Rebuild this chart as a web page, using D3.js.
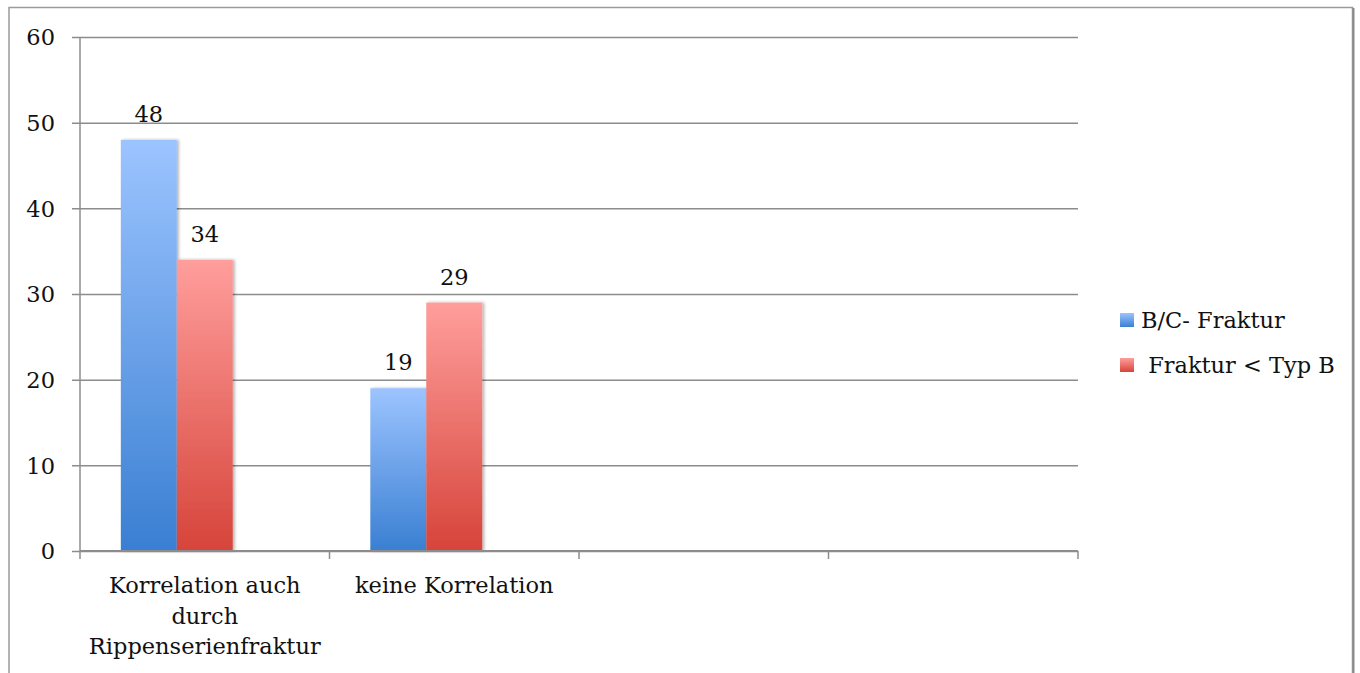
<!DOCTYPE html>
<html>
<head>
<meta charset="utf-8">
<script src="https://cdn.jsdelivr.net/npm/d3@7"></script>
<style>
  html, body { margin: 0; padding: 0; background: #fff; }
  svg { display: block; }
  text { font-family: "DejaVu Serif", serif; fill: #111; }
</style>
</head>
<body>
<svg id="chart" width="1360" height="673"></svg>
<script>
// Category slots along the x axis (two are left empty)
const categories = [
  ["Korrelation auch", "durch", "Rippenserienfraktur"],
  ["keine Korrelation"],
  [],
  []
];
const seriesNames = ["B/C- Fraktur", " Fraktur < Typ B"];
const bcFraktur = [48, 19, null, null];
const frakturTypB = [34, 29, null, null];
const yTicks = [0, 10, 20, 30, 40, 50, 60];

const series = [
  { name: seriesNames[0], values: bcFraktur, grad: "gBlue", slot: 0 },
  { name: seriesNames[1], values: frakturTypB, grad: "gRed", slot: 1 }
];

const FONT = 22.5;
const svg = d3.select("#chart");
const W = 1360, H = 673;
const plot = { left: 80, right: 1078, top: 37, bottom: 551 };

const defs = svg.append("defs");
function gradient(id, top, bottom) {
  const g = defs.append("linearGradient").attr("id", id)
    .attr("x1", 0).attr("y1", 0).attr("x2", 0).attr("y2", 1);
  g.append("stop").attr("offset", "0%").attr("stop-color", top);
  g.append("stop").attr("offset", "100%").attr("stop-color", bottom);
}
gradient("gBlue", "#9cc4ff", "#3a7fd2");
gradient("gRed", "#ff9e9c", "#d6443a");
// soft shadow that sits to the right of each bar
const f = defs.append("filter").attr("id", "barShadow")
  .attr("x", "-10%").attr("y", "-5%").attr("width", "130%").attr("height", "110%");
f.append("feGaussianBlur").attr("in", "SourceAlpha").attr("stdDeviation", 1.6).attr("result", "b");
f.append("feOffset").attr("in", "b").attr("dx", 2).attr("dy", 0).attr("result", "o");
f.append("feComponentTransfer").attr("in", "o").attr("result", "s")
  .append("feFuncA").attr("type", "linear").attr("slope", 0.3);
const fm = f.append("feMerge");
fm.append("feMergeNode").attr("in", "s");
fm.append("feMergeNode").attr("in", "SourceGraphic");

// outer frame
svg.append("rect")
  .attr("x", 9).attr("y", 7.5).attr("width", 1343.5).attr("height", 720)
  .attr("fill", "none").attr("stroke", "#9a9a9a").attr("stroke-width", 1.5);
svg.append("line")
  .attr("x1", 1353.5).attr("x2", 1353.5).attr("y1", 8).attr("y2", H)
  .attr("stroke", "#8a8a8a").attr("stroke-width", 2);

const y = d3.scaleLinear().domain([0, 60]).range([plot.bottom, plot.top]);
const x = d3.scaleBand().domain(d3.range(categories.length))
  .range([plot.left, plot.right]).padding(0);
// three sub-slots per category, the last one stays empty
const x1 = d3.scaleBand().domain([0, 1, 2])
  .range([0, x.bandwidth()]).paddingInner(0).paddingOuter(0.73);

const gridColor = "#8c8c8c";

// horizontal gridlines + y ticks
const yAxis = d3.axisLeft(y).tickValues(yTicks)
  .tickSize(-(plot.right - plot.left)).tickSizeOuter(0).tickPadding(25);
const gy = svg.append("g").attr("transform", `translate(${plot.left},0)`).call(yAxis);
gy.select(".domain").remove();
gy.selectAll(".tick line").attr("stroke", gridColor).attr("stroke-width", 1.5)
  .attr("x1", -8);
gy.selectAll(".tick text").attr("font-size", FONT).attr("fill", "#111")
  .attr("font-family", "DejaVu Serif, serif").attr("dy", "0.35em");

// y axis line extending below the baseline
svg.append("line").attr("x1", plot.left).attr("x2", plot.left)
  .attr("y1", plot.top).attr("y2", plot.bottom + 8)
  .attr("stroke", gridColor).attr("stroke-width", 1.5);

// category boundary ticks on the x axis
const boundaries = d3.range(categories.length + 1).map(i =>
  i < categories.length ? x(i) : x(i - 1) + x.bandwidth());
svg.append("g").selectAll("line").data(boundaries.slice(1)).join("line")
  .attr("x1", d => d).attr("x2", d => d)
  .attr("y1", plot.bottom).attr("y2", plot.bottom + 8)
  .attr("stroke", gridColor).attr("stroke-width", 1.5);

// bars
series.forEach(s => {
  const data = s.values.map((v, i) => ({ i, v })).filter(d => d.v != null);
  const g = svg.append("g");
  g.selectAll("rect").data(data).join("rect")
    .attr("x", d => x(d.i) + x1(s.slot))
    .attr("width", x1.bandwidth())
    .attr("y", d => y(d.v))
    .attr("height", d => y(0) - y(d.v))
    .attr("fill", `url(#${s.grad})`)
    .attr("filter", "url(#barShadow)");
  g.selectAll("text").data(data).join("text")
    .attr("x", d => x(d.i) + x1(s.slot) + x1.bandwidth() / 2)
    .attr("y", d => y(d.v) - 18)
    .attr("text-anchor", "middle").attr("font-size", FONT)
    .text(d => d.v);
});

// baseline (x axis)
svg.append("line").attr("x1", plot.left).attr("x2", plot.right)
  .attr("y1", y(0)).attr("y2", y(0))
  .attr("stroke", gridColor).attr("stroke-width", 2);

// category labels
svg.append("g").selectAll("text").data(categories).join("text")
  .attr("x", (d, i) => x(i) + x.bandwidth() / 2)
  .attr("y", 593)
  .attr("text-anchor", "middle").attr("font-size", FONT)
  .each(function(lines) {
    const t = d3.select(this);
    lines.forEach((ln, k) => {
      t.append("tspan").attr("x", t.attr("x")).attr("y", 593 + k * 30.5).text(ln);
    });
  });

// legend
const legend = svg.append("g");
const legendY = [313, 358];
series.forEach((s, k) => {
  legend.append("rect").attr("x", 1120).attr("y", legendY[k])
    .attr("width", 14).attr("height", 14).attr("fill", `url(#${s.grad})`);
  legend.append("text").attr("x", 1141).attr("y", legendY[k] + 15)
    .attr("font-size", FONT).attr("xml:space", "preserve")
    .style("white-space", "pre").text(s.name);
});
</script>
</body>
</html>
